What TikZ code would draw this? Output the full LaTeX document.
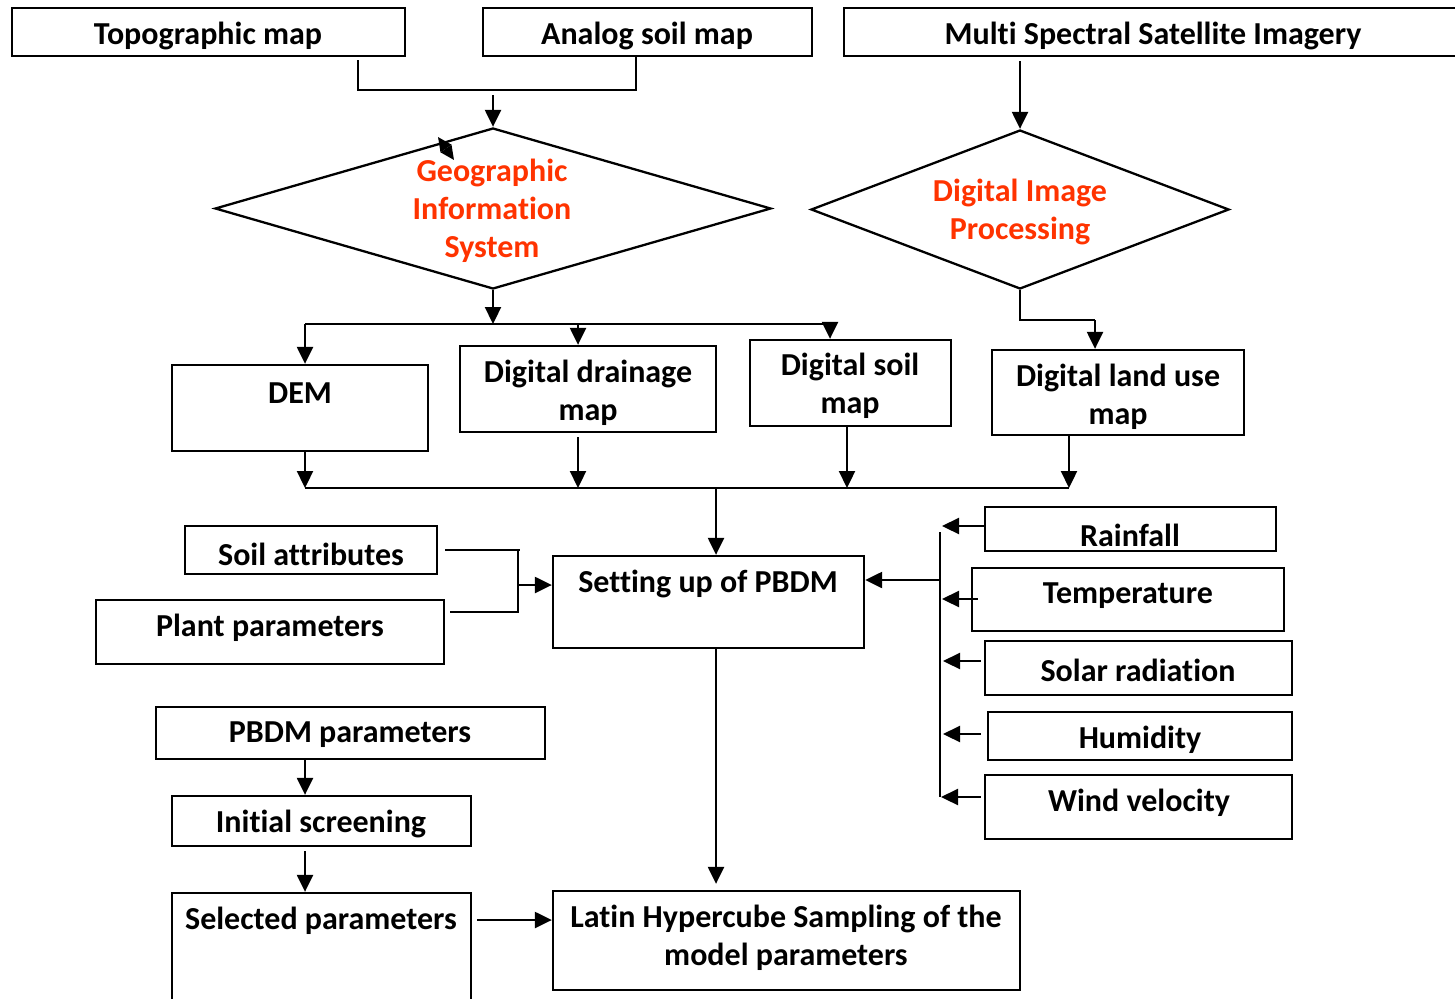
\documentclass[tikz,border=0pt]{standalone}
\usepackage{fontspec}
\setmainfont{Carlito}[Ligatures=NoCommon]
\usetikzlibrary{shapes.geometric,arrows.meta}
\definecolor{hotred}{RGB}{255,51,0}
\begin{document}
\begin{tikzpicture}[x=1pt,y=-1pt,
  ln/.style={line width=2.3pt},
  arr/.style={line width=2.3pt,-{Triangle[length=17pt,width=16pt]}},
  box/.style={draw,rectangle,line width=2.3pt,inner sep=0pt},
  txt/.style={font=\fontsize{32}{38}\selectfont\bfseries,align=center,inner sep=0pt,yshift=-2pt},
  dia/.style={draw,diamond,line width=2.3pt,inner sep=0pt},
  diatxt/.style={txt,text=hotred}]
\path[clip] (0,0) rectangle (1455,998);
\fill[white] (0,0) rectangle (1455,998);

% data sources
\node[box,minimum width=393pt,minimum height=48pt] (topo) at (208.5,32) {};
\node[txt] (topo-t) at (208,34) {Topographic map};
\node[box,minimum width=329pt,minimum height=48pt] (analog) at (647.5,32) {};
\node[txt] (analog-t) at (647,34) {Analog soil map};
\node[box,minimum width=619pt,minimum height=48pt] (msi) at (1153.5,32) {};
\node[txt] (msi-t) at (1153,34) {Multi Spectral Satellite Imagery};

% processing
\node[dia,minimum width=556pt,minimum height=161pt] (gis) at (493,208.5) {};
\node[diatxt] (gis-t) at (492,209) {Geographic\\Information\\System};
\node[dia,minimum width=418pt,minimum height=159pt] (dip) at (1020,209.5) {};
\node[diatxt] (dip-t) at (1020,210) {Digital Image\\Processing};

% derived layers
\node[box,minimum width=256pt,minimum height=86pt] (dem) at (300,408) {};
\node[txt] (dem-t) at (300,391) {DEM};
\node[box,minimum width=256pt,minimum height=86pt] (drain) at (588,389) {};
\node[txt] (drain-t) at (588,391) {Digital drainage\\map};
\node[box,minimum width=201pt,minimum height=86pt] (dsoil) at (850.5,383) {};
\node[txt] (dsoil-t) at (850,384) {Digital soil\\map};
\node[box,minimum width=252pt,minimum height=85pt] (landuse) at (1118,392.5) {};
\node[txt] (landuse-t) at (1118,395) {Digital land use\\map};

% model set-up
\node[box,minimum width=311pt,minimum height=92pt] (setup) at (708.5,602) {};
\node[txt] (setup-t) at (708,582) {Setting up of PBDM};
\node[box,minimum width=252pt,minimum height=48pt] (soilattr) at (311,550) {};
\node[txt] (soilattr-t) at (311,552) {Soil attributes};
\node[box,minimum width=348pt,minimum height=64pt] (plant) at (270,632) {};
\node[txt] (plant-t) at (270,626) {Plant parameters};

% weather inputs
\node[box,minimum width=291pt,minimum height=44pt] (rain) at (1130.5,529) {};
\node[txt] (rain-t) at (1130,533) {Rainfall};
\node[box,minimum width=312pt,minimum height=63pt] (temp) at (1128,599.5) {};
\node[txt] (temp-t) at (1128,594) {Temperature};
\node[box,minimum width=307pt,minimum height=54pt] (solar) at (1138.5,668) {};
\node[txt] (solar-t) at (1138,668) {Solar radiation};
\node[box,minimum width=304pt,minimum height=48pt] (humid) at (1140,736) {};
\node[txt] (humid-t) at (1140,738) {Humidity};
\node[box,minimum width=307pt,minimum height=64pt] (wind) at (1138.5,807) {};
\node[txt] (wind-t) at (1139,801) {Wind velocity};

% parameter screening
\node[box,minimum width=389pt,minimum height=52pt] (pbdmp) at (350.5,733) {};
\node[txt] (pbdmp-t) at (350,733) {PBDM parameters};
\node[box,minimum width=299pt,minimum height=50pt] (initial) at (321.5,821) {};
\node[txt] (initial-t) at (321,822) {Initial screening};
\node[box,minimum width=299pt,minimum height=117pt] (selected) at (321.5,951.5) {};
\node[txt] (selected-t) at (321,919) {Selected parameters};
\node[box,minimum width=467pt,minimum height=99pt] (latin) at (786.5,940.5) {};
\node[txt] (latin-t) at (786,936) {Latin Hypercube Sampling of the\\model parameters};

% junction points
\coordinate (j1) at (358,90);
\coordinate (j2) at (636,90);
\coordinate (j3) at (493,95);
\coordinate (b1) at (305,324);
\coordinate (b2) at (830,324);
\coordinate (b3) at (578,324);
\coordinate (d1) at (1020,320);
\coordinate (d2) at (1095,320);
\coordinate (m1) at (305,488);
\coordinate (m2) at (1069,488);
\coordinate (m3) at (578,488);
\coordinate (m4) at (847,488);
\coordinate (m5) at (716,488);
\coordinate (s1) at (518,550);
\coordinate (s2) at (518,612);
\coordinate (s3) at (518,585);
\coordinate (p1) at ([xshift=7pt]soilattr.east);
\coordinate (p2) at ([xshift=5pt]plant.east);
\coordinate (r1) at (940,532);
\coordinate (r2) at (940,797);
\coordinate (r0) at (940,580);
\coordinate (ra) at (942,526);
\coordinate (ta) at (942,599);
\coordinate (sa) at (943,661);
\coordinate (ha) at (943,734);
\coordinate (wa) at (941,797);
\coordinate (q1) at (305,759);
\coordinate (q2) at (305,851);
\coordinate (q3) at (477,920);
\coordinate (k1) at (438,137);
\coordinate (k2) at (454,160);

% maps into GIS
\draw[ln] ([yshift=-3pt]topo.south -| j1) -- (j1) -- (j2) -- (analog.south -| j2);
\draw[arr] (j3) -- (gis.north);
\draw[line width=1.5pt,{Triangle[length=14pt,width=13pt]}-{Triangle[length=14pt,width=13pt]}] (k1) -- (k2);

% GIS outputs
\draw[arr] (gis.south) -- (gis.south |- b1);
\draw[ln] (b1) -- (b2);
\draw[arr] (b1) -- (b1 |- dem.north);
\draw[arr] (b3) -- (b3 |- drain.north);
\draw[arr] (b2) -- (b2 |- dsoil.north);

% imagery processing
\draw[arr] ([yshift=-4pt]msi.south -| dip.north) -- (dip.north);
\draw[ln] (dip.south) -- (d1) -- (d2);
\draw[arr] (d2) -- (d2 |- landuse.north);

% layers into the model
\draw[arr] (m1 |- dem.south) -- (m1);
\draw[arr] ([yshift=-4pt]m3 |- drain.south) -- (m3);
\draw[arr] (m4 |- dsoil.south) -- (m4);
\draw[arr] (m2 |- landuse.south) -- (m2);
\draw[ln] (m1) -- (m2);
\draw[arr] (m5) -- (m5 |- setup.north);

% soil and plant inputs
\draw[ln] (p1) -- ([xshift=2pt]s1);
\draw[ln] (p2 |- s2) -- (s2) -- (s1);
\draw[arr] (s3) -- (s3 -| setup.west);

% weather inputs
\draw[ln] (r1) -- (r2);
\draw[arr] (r0) -- (r0 -| setup.east);
\draw[arr] ([xshift=2pt]rain.west |- ra) -- (ra);
\draw[arr] ([xshift=7pt]temp.west |- ta) -- (ta);
\draw[arr] ([xshift=-3pt]solar.west |- sa) -- (sa);
\draw[arr] ([xshift=-6pt]humid.west |- ha) -- (ha);
\draw[arr] ([xshift=-3pt]wind.west |- wa) -- (wa);

% sampling
\draw[arr] (m5 |- setup.south) -- ([yshift=6pt]m5 |- latin.north);
\draw[arr] (q1) -- (q1 |- initial.north);
\draw[arr] (q2) -- (q2 |- selected.north);
\draw[arr] (q3) -- (q3 -| latin.west);
\end{tikzpicture}
\end{document}
